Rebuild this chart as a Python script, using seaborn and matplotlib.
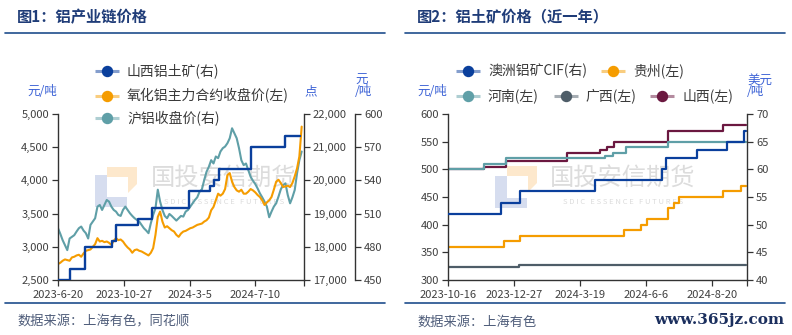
import numpy as np
import pandas as pd
import matplotlib
matplotlib.use("Agg")
import matplotlib.pyplot as plt
import seaborn as sns
from matplotlib.lines import Line2D
from matplotlib.patches import Polygon
from matplotlib.ticker import FuncFormatter, MultipleLocator

# ---------------- data ----------------
HOLIDAYS = ["2023-06-22", "2023-06-23", "2023-09-29", "2023-10-02", "2023-10-03",
            "2023-10-04", "2023-10-05", "2023-10-06", "2024-01-01", "2024-02-09",
            "2024-02-12", "2024-02-13", "2024-02-14", "2024-02-15", "2024-02-16",
            "2024-04-04", "2024-04-05", "2024-05-01", "2024-05-02", "2024-05-03",
            "2024-06-10", "2024-09-16", "2024-09-17", "2024-10-01", "2024-10-02",
            "2024-10-03", "2024-10-04", "2024-10-07"]

# Chart 1: aluminium industry chain prices (sampled every 3rd trading day)
C1_START, C1_END = "2023-06-20", "2024-10-11"
C1_TICKS = ["2023-06-20", "2023-10-27", "2024-03-05", "2024-07-10"]
C1_SAMPLE_EVERY = 3
alumina_close = [2740, 2760, 2790, 2810, 2800, 2790, 2840, 2850, 2870, 2880,
                 2850, 2900, 2940, 2950, 2960, 3000, 3040, 3130, 3080, 3090,
                 3070, 3080, 3060, 3030, 3090, 3130, 3100, 3110, 3080, 3030,
                 2990, 2960, 2910, 2950, 2960, 2940, 2930, 2910, 2890, 2870,
                 2910, 2980, 3180, 3450, 3530, 3380, 3290, 3310, 3280, 3250,
                 3230, 3180, 3150, 3200, 3230, 3240, 3260, 3280, 3290, 3310,
                 3330, 3340, 3350, 3380, 3400, 3440, 3550, 3600, 3700, 3800,
                 3770, 3800, 3870, 4080, 4110, 3980, 3900, 3850, 3830, 3860,
                 3800, 3800, 3830, 3870, 3850, 3820, 3780, 3750, 3700, 3630,
                 3670, 3700, 3750, 3860, 3980, 4010, 3960, 3900, 3910, 3920,
                 3900, 3960, 4060, 4180, 4360, 4810]
shfe_close = [18560, 18390, 18200, 18050, 17900, 18250, 18300, 18350, 18460, 18560,
              18610, 18490, 18410, 18250, 18660, 18760, 18860, 19210, 19260, 19110,
              19260, 19410, 19360, 19210, 19110, 19060, 18960, 18930, 19110, 19210,
              19110, 19010, 18930, 18860, 18810, 18760, 18660, 18560, 18490, 18410,
              18710, 18960, 19160, 19720, 19360, 19110, 18930, 18860, 18990, 18930,
              18860, 18790, 18860, 18930, 18910, 19060, 19110, 19210, 19310, 19410,
              19490, 19660, 19730, 20010, 20260, 20410, 20610, 20510, 20720, 20670,
              20870, 20970, 21020, 21120, 21270, 21570, 21420, 21270, 20970, 20610,
              20460, 20510, 20310, 20110, 19990, 19890, 19760, 19610, 19490, 19360,
              19210, 18890, 19060, 19210, 19310, 19510, 19730, 19860, 19910, 19560,
              19310, 19490, 19710, 20210, 20610, 20870]
shanxi_c1_dates = ["2023-06-20", "2023-07-14", "2023-08-10", "2023-09-28", "2023-10-13",
                   "2023-11-22", "2023-12-19", "2024-03-04", "2024-04-12", "2024-04-22",
                   "2024-04-30", "2024-07-02", "2024-09-02"]
shanxi_c1_prices = [450, 460, 480, 485, 500, 505, 515, 530, 535, 540, 550, 570, 580]
shanxi_c1_last = "2024-10-09"

# Chart 2: bauxite prices (last year)
C2_START, C2_END = "2023-10-16", "2024-09-30"
C2_TICKS = ["2023-10-16", "2023-12-27", "2024-03-19", "2024-06-06", "2024-08-20"]
aus_dates = ["2023-10-16", "2023-12-13", "2024-01-04", "2024-04-08", "2024-06-26",
             "2024-07-01", "2024-08-02", "2024-09-05", "2024-09-26"]
aus_prices = [52, 54, 56, 58, 60, 62, 63.5, 65, 67]
guizhou_dates = ["2023-10-16", "2023-12-15", "2024-01-04", "2024-05-14", "2024-05-31",
                 "2024-06-07", "2024-07-02", "2024-07-09", "2024-07-15", "2024-09-02",
                 "2024-09-24"]
guizhou_prices = [360, 370, 380, 390, 400, 410, 430, 440, 450, 460, 470]
henan_dates = ["2023-10-16", "2023-11-23", "2023-12-19", "2024-04-18", "2024-04-26",
               "2024-05-15", "2024-07-02"]
henan_prices = [500, 510, 520, 525, 530, 540, 550]
guangxi_dates = ["2023-10-16", "2024-01-03"]
guangxi_prices = [323, 328]
shanxi_c2_dates = ["2023-10-16", "2023-11-23", "2023-12-19", "2024-03-05", "2024-04-12",
                   "2024-04-19", "2024-04-29", "2024-07-02", "2024-09-02"]
shanxi_c2_prices = [500, 505, 515, 530, 535, 540, 550, 570, 580]

# ---------------- style ----------------
BLUE = "#0a3f9c"
ORANGE = "#f59c00"
TEAL = "#5f9fa7"
SLATE = "#4e5d68"
MAROON = "#6b1840"
NAVY = "#1f3c78"
UNIT = "#3d63d6"
TXT = "#3a3a3a"
SPINE = "#333333"

sns.set_theme(style="ticks")
plt.rcParams["font.family"] = ["Noto Sans CJK SC", "DejaVu Sans"]
plt.rcParams["axes.unicode_minus"] = False

W, H = 792, 335
fig = plt.figure(figsize=(W / 100, H / 100), dpi=100)
fig.patch.set_facecolor("white")


def fx(x):
    return x / W


def fy(y):
    return 1 - y / H


def trading_days(start, end):
    d = pd.bdate_range(start, end)
    return d[~d.isin(pd.to_datetime(HOLIDAYS))]


cal1 = trading_days(C1_START, C1_END)
cal2 = trading_days(C2_START, C2_END)


def pos(cal, d):
    return int(cal.searchsorted(pd.Timestamp(d)))


def step_frame(cal, dates, vals, last):
    x = [pos(cal, d) for d in dates] + [pos(cal, last)]
    y = list(vals) + [vals[-1]]
    return pd.DataFrame({"x": x, "y": y})


comma = FuncFormatter(lambda v, p: f"{v:,.0f}")


def prep(a):
    a.set_facecolor("none")
    for s in a.spines.values():
        s.set_visible(False)
    a.tick_params(axis="both", colors=SPINE, labelcolor="#404040", labelsize=8,
                  length=4, width=0.9, direction="out", pad=2.5)
    a.grid(False)


def show(a, side):
    a.spines[side].set_visible(True)
    a.spines[side].set_color(SPINE)
    a.spines[side].set_linewidth(1.0)


def datelabel(d):
    t = pd.Timestamp(d)
    return f"{t.year}-{t.month}-{t.day}"


# ---------------- chart 1 ----------------
X1_MAX = 318
ax = fig.add_axes([fx(58), fy(280), fx(304) - fx(58), 166 / H])
ax2 = ax.twinx()
ax3 = ax.twinx()
for a in (ax, ax2, ax3):
    prep(a)
ax2.set_zorder(1)
ax.set_zorder(2)
ax3.set_zorder(3)

x1 = np.arange(len(shfe_close)) * C1_SAMPLE_EVERY
sns.lineplot(x=x1, y=shfe_close, ax=ax2, color=TEAL, lw=1.5)
sns.lineplot(x=x1, y=alumina_close, ax=ax, color=ORANGE, lw=1.5)
sx = step_frame(cal1, shanxi_c1_dates, shanxi_c1_prices, shanxi_c1_last)
sns.lineplot(data=sx, x="x", y="y", ax=ax3, color=BLUE, lw=1.7,
             drawstyle="steps-post", estimator=None, sort=False)

show(ax, "left")
show(ax, "bottom")
show(ax2, "right")
show(ax3, "right")
ax3.spines["right"].set_position(("outward", 51 * 0.72))

ax.set_xlim(0, X1_MAX)
ax.set_ylim(2500, 5000)
ax.yaxis.set_major_locator(MultipleLocator(500))
ax2.set_ylim(17000, 22000)
ax2.yaxis.set_major_locator(MultipleLocator(1000))
ax3.set_ylim(450, 600)
ax3.yaxis.set_major_locator(MultipleLocator(30))
for a in (ax, ax2, ax3):
    a.yaxis.set_major_formatter(comma)
    a.set_xlabel("")
    a.set_ylabel("")
ax.set_xticks([pos(cal1, d) for d in C1_TICKS] + [X1_MAX])
ax.set_xticklabels([datelabel(d) for d in C1_TICKS] + [""])
ax.tick_params(axis="x", pad=3)

# ---------------- chart 2 ----------------
X2_MAX = len(cal2) - 1 + 0.6
bx = fig.add_axes([fx(448), fy(280), fx(747) - fx(448), 166 / H])
bx2 = bx.twinx()
for a in (bx, bx2):
    prep(a)

series2 = [
    (guangxi_dates, guangxi_prices, SLATE, bx),
    (guizhou_dates, guizhou_prices, ORANGE, bx),
    (shanxi_c2_dates, shanxi_c2_prices, MAROON, bx),
    (henan_dates, henan_prices, TEAL, bx),
    (aus_dates, aus_prices, BLUE, bx2),
]
for dts, vals, col, a in series2:
    df = step_frame(cal2, dts, vals, C2_END)
    sns.lineplot(data=df, x="x", y="y", ax=a, color=col, lw=1.6,
                 drawstyle="steps-post", estimator=None, sort=False)

show(bx, "left")
show(bx, "bottom")
show(bx2, "right")
bx.set_xlim(0, X2_MAX)
bx.set_ylim(300, 600)
bx.yaxis.set_major_locator(MultipleLocator(50))
bx2.set_ylim(40, 70)
bx2.yaxis.set_major_locator(MultipleLocator(5))
for a in (bx, bx2):
    a.set_xlabel("")
    a.set_ylabel("")
bx.set_xticks([pos(cal2, d) for d in C2_TICKS] + [X2_MAX])
bx.set_xticklabels([datelabel(d) for d in C2_TICKS] + [""])
bx.tick_params(axis="x", pad=3)

# ---------------- titles, rules, sources ----------------
fig.text(fx(17), fy(17), "图1：铝产业链价格", fontsize=11, fontweight="bold",
         color=NAVY, va="center", ha="left")
fig.text(fx(417), fy(17), "图2：铝土矿价格（近一年）", fontsize=11, fontweight="bold",
         color=NAVY, va="center", ha="left")
for x0, x1_ in ((5, 385), (405, 785)):
    for yy in (33, 303):
        fig.add_artist(Line2D([fx(x0), fx(x1_)], [fy(yy), fy(yy)], color="#1f4e8c",
                              lw=1.2, transform=fig.transFigure))
fig.text(fx(17), fy(322), "数据来源：上海有色，同花顺", fontsize=9.5, color="#4f5d7a",
         va="center", ha="left")
fig.text(fx(417), fy(322), "数据来源：上海有色", fontsize=9.5, color="#4f5d7a",
         va="center", ha="left")
fig.text(fx(784), fy(320), "www.365jz.com", fontsize=11, color="#1b2f5e",
         family="DejaVu Serif", fontweight="bold", va="center", ha="right")

# unit labels
fig.text(fx(57), fy(92), "元/吨", fontsize=9, color=UNIT, ha="right", va="center")
fig.text(fx(304), fy(92), "点", fontsize=9, color=UNIT, ha="left", va="center")
fig.text(fx(355), fy(80), "元", fontsize=9, color=UNIT, ha="left", va="center")
fig.text(fx(355), fy(92), "/吨", fontsize=9, color=UNIT, ha="left", va="center")
fig.text(fx(447), fy(92), "元/吨", fontsize=9, color=UNIT, ha="right", va="center")
fig.text(fx(747), fy(80), "美元", fontsize=9, color=UNIT, ha="left", va="center")
fig.text(fx(747), fy(92), "/吨", fontsize=9, color=UNIT, ha="left", va="center")


# legends (drawn as figure artists)
def legend_item(xc, yc, color, label):
    fig.add_artist(Line2D([fx(xc - 12), fx(xc + 12)], [fy(yc), fy(yc)], color=color,
                          alpha=0.5, lw=2.2, solid_capstyle="butt",
                          transform=fig.transFigure, zorder=5))
    fig.add_artist(Line2D([fx(xc)], [fy(yc)], marker="o", ms=7.2, color=color,
                          lw=0, transform=fig.transFigure, zorder=6))
    fig.text(fx(xc + 20), fy(yc), label, fontsize=10, color=TXT, ha="left",
             va="center", zorder=6)


legend_item(107, 71, BLUE, "山西铝土矿(右)")
legend_item(107, 95.5, ORANGE, "氧化铝主力合约收盘价(左)")
legend_item(107, 118.5, TEAL, "沪铝收盘价(右)")
legend_item(468, 71, BLUE, "澳洲铝矿CIF(右)")
legend_item(613, 71, ORANGE, "贵州(左)")
legend_item(468, 95.5, TEAL, "河南(左)")
legend_item(566, 95.5, SLATE, "广西(左)")
legend_item(662, 95.5, MAROON, "山西(左)")


# watermarks
def watermark(cx, bx0, by0, ox0, oy0):
    blue_l = [(bx0, by0), (bx0 + 12, by0), (bx0 + 12, by0 + 22), (bx0 + 32, by0 + 22),
              (bx0 + 32, by0 + 32), (bx0, by0 + 32)]
    fig.patches.append(Polygon([(fx(a), fy(b)) for a, b in blue_l], closed=True,
                               transform=fig.transFigure, color="#d6ddef",
                               zorder=-2, lw=0))
    orange_l = [(ox0, oy0), (ox0 + 30, oy0), (ox0 + 30, oy0 + 17), (ox0 + 21, oy0 + 26),
                (ox0 + 21, oy0 + 10), (ox0, oy0 + 10)]
    fig.patches.append(Polygon([(fx(a), fy(b)) for a, b in orange_l], closed=True,
                               transform=fig.transFigure, color="#fde8cc",
                               zorder=-2, lw=0))
    fig.text(fx(cx), fy(178), "国投安信期货", fontsize=17.5, color="#dcdcdc",
             ha="center", va="center", zorder=-1)
    fig.text(fx(cx), fy(202), "S D I C   E S S E N C E   F U T U R E S", fontsize=5.5,
             color="#dcdcdc", ha="center", va="center", zorder=-1)


watermark(224, 95, 175, 107, 167)
watermark(623, 495, 176, 507, 166)

fig.savefig("out.png", dpi=100, facecolor="white")
